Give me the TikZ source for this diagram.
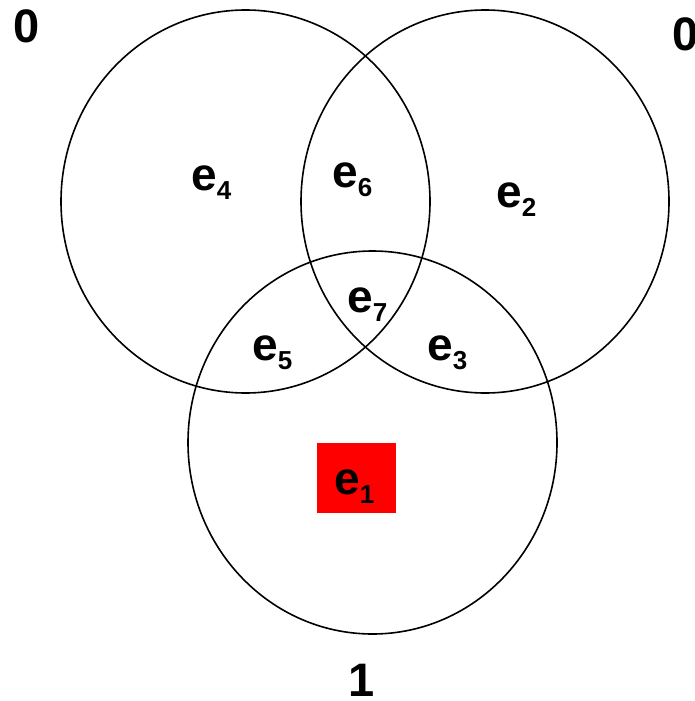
\documentclass[tikz,border=0pt]{standalone}
\usepackage{fontspec}
\setmainfont{Liberation Sans}
\newcommand{\elab}[1]{e\raisebox{-9pt}{\fontsize{26}{26}\selectfont #1}}
\tikzset{
  region/.style={draw, line width=1.6pt},
  lab/.style={font=\fontsize{46}{50}\selectfont\bfseries, inner sep=0pt, anchor=base west},
  bit/.style={font=\fontsize{47}{50}\selectfont\bfseries, inner sep=0pt},
}
\begin{document}
\begin{tikzpicture}[x=1pt,y=-1pt]
\useasboundingbox (0,0) rectangle (695,701);
\clip (0,0) rectangle (695,701);
\coordinate (L) at (245.5,201.5);
\coordinate (R) at (485,201.5);
\coordinate (B) at (372.5,442.5);
% marked region
\node[fill=red, minimum width=79pt, minimum height=70pt, inner sep=0pt] (box) at (356.5,478) {};
% circles
\draw[region] (L) ellipse [x radius=184.5pt, y radius=191.5pt];
\draw[region] (R) ellipse [x radius=184pt, y radius=191.5pt];
\draw[region] (B) ellipse [x radius=184.5pt, y radius=191.5pt];
% region labels
\node[lab] (e1) at (334,494) {\elab{1}};
\node[lab] (e2) at (496,207.5) {\elab{2}};
\node[lab] (e3) at (427,360.5) {\elab{3}};
\node[lab] (e4) at (191,190.5) {\elab{4}};
\node[lab] (e5) at (252,360.5) {\elab{5}};
\node[lab] (e6) at (332,187.5) {\elab{6}};
\node[lab] (e7) at (347,312.5) {\elab{7}};
% bits
\node[bit] (bL) at (26.5,26.5) {0};
\node[bit] (bR) at (686,34.5) {0};
\node[bit] (bB) at (362,680.5) {1};
\end{tikzpicture}
\end{document}
